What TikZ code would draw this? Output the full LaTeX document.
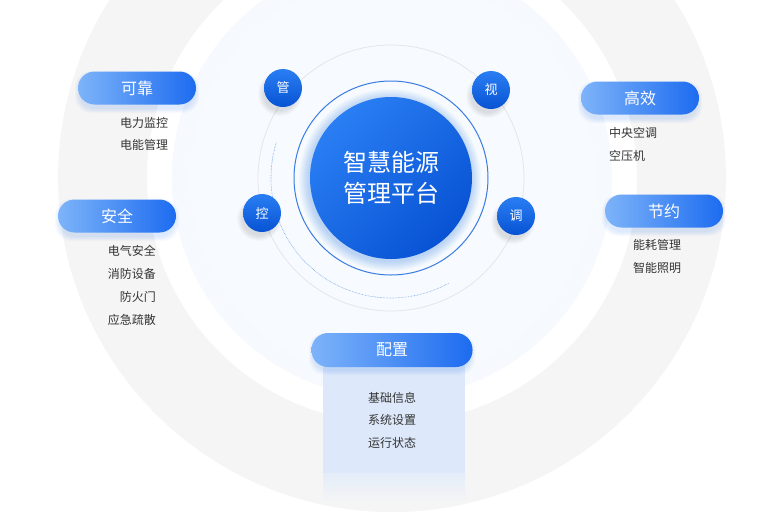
\documentclass[tikz,border=0pt]{standalone}
\usepackage{fontspec}
\setmainfont{Noto Sans CJK SC}
\usepackage{tikz}
\usetikzlibrary{positioning}
\definecolor{ringGray}{HTML}{F5F5F5}
\definecolor{diskIn}{HTML}{F7FAFE}
\definecolor{diskOut}{HTML}{E9F1FC}
\definecolor{coreA}{HTML}{2A7EF3}
\definecolor{coreB}{HTML}{0853D4}
\definecolor{pillA}{HTML}{7DB3F9}
\definecolor{pillB}{HTML}{1D6CF0}
\definecolor{ringBlue}{HTML}{3A7CE2}
\definecolor{faintLine}{HTML}{E3E7ED}
\definecolor{boxBlue}{HTML}{DDE9FB}
\definecolor{itemGray}{HTML}{333333}
\pgfdeclareradialshading{diskshade}{\pgfpoint{0bp}{0bp}}{color(0bp)=(diskIn); color(22bp)=(diskIn); color(50bp)=(diskOut)}

\begin{document}
\begin{tikzpicture}[x=1pt,y=-1pt,
  pill/.style={rectangle,rounded corners=16.5pt,minimum width=118pt,minimum height=33pt,inner sep=0pt,
    left color=pillA,right color=pillB,text=white,font=\fontsize{16}{16}\selectfont},
  dot/.style={circle,minimum size=38pt,inner sep=0pt,top color=coreA,bottom color=coreB,
    text=white,font=\fontsize{13}{13}\selectfont},
  item/.style={text=itemGray,font=\fontsize{12}{12}\selectfont,inner sep=0pt}]
  \useasboundingbox (0,0) rectangle (769,523);
  % rings in the back
  \fill[ringGray,even odd rule] (392,178) circle[radius=334] (392,178) circle[radius=245];
  \shade[shading=diskshade] (392,178) circle[radius=220];
  \draw[faintLine,line width=0.8pt] (391,178) circle[radius=133];
  \draw[ringBlue,opacity=0.7,line width=0.6pt,dash pattern=on 0.6pt off 0.9pt]
    ([shift={(197:120)}]391,178) arc[start angle=197,end angle=61,radius=120];
  % glow round the core
  \foreach \k in {1,...,10}
    \fill[coreA,opacity=0.03] (390,180) circle[radius=81+\k];
  \draw[ringBlue,line width=1pt] (391,178) circle[radius=97];
  \node[circle,minimum size=162pt,inner sep=0pt,top color=coreA,bottom color=coreB,shading angle=45,
    text=white,align=center,font=\fontsize{24}{31}\selectfont] (core) at (391,178) {智慧能源\\管理平台};
  % small dots
  \foreach \x/\y in {283/88,491/90,262/213,516/216}
    \foreach \k in {1,...,6}
      \fill[black,opacity=0.018] (\x-3,\y+6) circle[radius=16+\k];
  \node[dot] (guan) at (283,88) {管};
  \node[dot] (shi) at (491,90) {视};
  \node[dot] (kong) at (262,213) {控};
  \node[dot] (tiao) at (516,216) {调};
  % box under the bottom pill
  \fill[boxBlue] (323,350) rectangle (465,473);
  \shade[top color=boxBlue!70!ringGray,bottom color=ringGray] (323,473) rectangle (465,503);
  % pills
  \foreach \x/\y/\w in {137/88/59,117/216/59,640/98/59,664/211/59,392/350/80}
    \foreach \k in {1,...,5}
      \fill[pillB,opacity=0.03,rounded corners=16pt] (\x-\w-\k+2,\y-12-\k) rectangle (\x+\w+\k-2,\y+20+\k);
  \node[pill] (kekao) at (137,88) {可靠};
  \node[pill] (anquan) at (117,216) {安全};
  \node[pill] (gaoxiao) at (640,98) {高效};
  \node[pill] (jieyue) at (664,211) {节约};
  \node[pill,minimum width=161pt,minimum height=34pt] (peizhi) at (392,350) {配置};
  % items
  \node[item] (dlj) at (144,123) {电力监控};
  \node[item] (dng) at (144,145) {电能管理};
  \node[item,anchor=east] (dqa) at (156,251) {电气安全};
  \node[item,anchor=east] (xfs) at (156,274) {消防设备};
  \node[item,anchor=east] (fhm) at (156,297) {防火门};
  \node[item,anchor=east] (yjs) at (156,320) {应急疏散};
  \node[item,anchor=west] (zyk) at (609,133) {中央空调};
  \node[item,anchor=west] (kyj) at (609,156) {空压机};
  \node[item,anchor=west] (nhg) at (633,245) {能耗管理};
  \node[item,anchor=west] (znz) at (633,268) {智能照明};
  \node[item] (jcx) at (392,398) {基础信息};
  \node[item] (xts) at (392,420) {系统设置};
  \node[item] (yxz) at (392,443) {运行状态};
\end{tikzpicture}
\end{document}
